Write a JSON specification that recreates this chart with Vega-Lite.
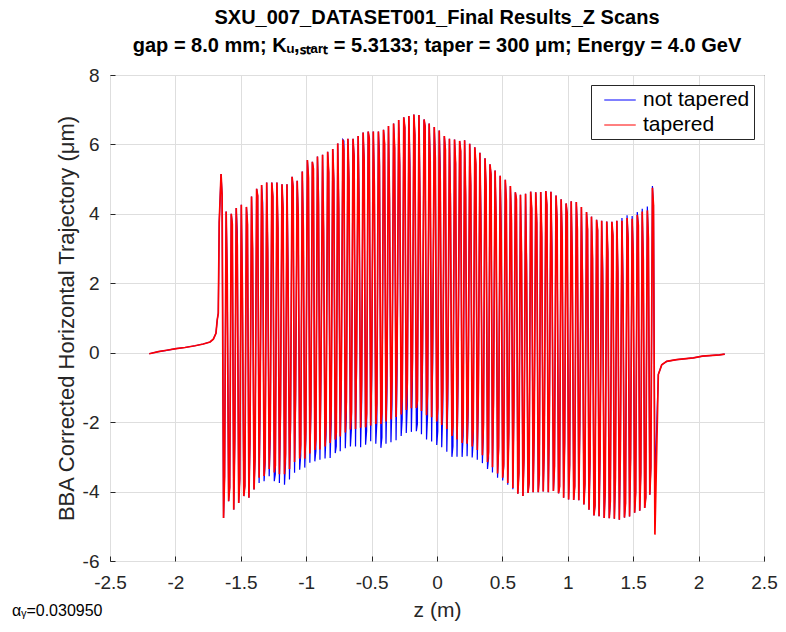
{
"$schema":"https://vega.github.io/schema/vega-lite/v6.json",
"width":654,"height":486,
"autosize":{"type":"none"},
"padding":{"left":110,"top":75,"right":22,"bottom":71},
"background":"white",
"config":{"font":"Liberation Sans","view":{"stroke":"#262626","strokeWidth":1}},
"title":{"text":["SXU_007_DATASET001_Final Results_Z Scans","gap = 8.0 mm; Kᵤ,ₛₜₐᵣₜ = 5.3133; taper = 300 μm; Energy = 4.0 GeV"],"fontSize":20,"fontWeight":"bold","color":"#000000","lineHeight":28,"offset":10,"anchor":"middle"},
"data":{"values":[
{"z":-2.2,"nt":-0.03,"t":-0.03},{"z":-2.13,"nt":0.03,"t":0.03},{"z":-2.067,"nt":0.07,"t":0.07},{"z":-1.995,"nt":0.12,"t":0.12},{"z":-1.927,"nt":0.15,"t":0.15},{"z":-1.85,"nt":0.2,"t":0.2},{"z":-1.787,"nt":0.25,"t":0.25},{"z":-1.735,"nt":0.31,"t":0.31},{"z":-1.71,"nt":0.39,"t":0.39},{"z":-1.69,"nt":0.56,"t":0.56},{"z":-1.68,"nt":0.95,"t":0.95},{"z":-1.672,"nt":1.14,"t":1.14},{"z":-1.665,"nt":3.75,"t":3.75},
{"z":-1.651,"nt":5.15,"t":5.15},{"z":-1.643,"nt":4.55,"t":4.55},{"z":-1.632,"nt":-4.76,"t":-4.76},{"z":-1.624,"nt":-3.56,"t":-3.56},
{"z":-1.612,"nt":4.07,"t":4.07},{"z":-1.604,"nt":2.27,"t":2.27},{"z":-1.593,"nt":-4.28,"t":-4.28},{"z":-1.585,"nt":-3.88,"t":-3.88},
{"z":-1.573,"nt":4.0,"t":4.0},{"z":-1.565,"nt":3.7,"t":3.7},{"z":-1.554,"nt":-4.52,"t":-4.52},{"z":-1.546,"nt":-2.52,"t":-2.52},
{"z":-1.535,"nt":4.17,"t":4.17},{"z":-1.527,"nt":3.47,"t":3.07},{"z":-1.516,"nt":-4.33,"t":-4.33},{"z":-1.508,"nt":-3.63,"t":-3.63},
{"z":-1.496,"nt":4.26,"t":4.26},{"z":-1.488,"nt":1.86,"t":1.86},{"z":-1.477,"nt":-4.13,"t":-4.13},{"z":-1.469,"nt":-3.83,"t":-3.83},
{"z":-1.457,"nt":4.2,"t":4.2},{"z":-1.449,"nt":3.7,"t":3.7},{"z":-1.438,"nt":-4.18,"t":-4.18},{"z":-1.43,"nt":-2.58,"t":-2.58},
{"z":-1.418,"nt":4.5,"t":4.5},{"z":-1.41,"nt":3.0,"t":3.0},{"z":-1.399,"nt":-3.94,"t":-3.94},{"z":-1.391,"nt":-3.04,"t":-3.04},
{"z":-1.379,"nt":4.72,"t":4.72},{"z":-1.371,"nt":4.52,"t":4.52},{"z":-1.36,"nt":-3.75,"t":-3.6},{"z":-1.352,"nt":-1.45,"t":-1.3},
{"z":-1.341,"nt":4.83,"t":4.83},{"z":-1.333,"nt":4.33,"t":3.93},{"z":-1.322,"nt":-3.7,"t":-3.55},{"z":-1.314,"nt":-3.2,"t":-3.05},
{"z":-1.302,"nt":4.9,"t":4.9},{"z":-1.294,"nt":2.9,"t":2.9},{"z":-1.283,"nt":-3.56,"t":-3.35},{"z":-1.275,"nt":-2.46,"t":-2.25},
{"z":-1.263,"nt":4.9,"t":4.9},{"z":-1.255,"nt":4.5,"t":4.5},{"z":-1.244,"nt":-3.7,"t":-3.45},{"z":-1.236,"nt":-3.5,"t":-3.25},
{"z":-1.224,"nt":4.9,"t":4.9},{"z":-1.216,"nt":3.6,"t":3.6},{"z":-1.205,"nt":-3.75,"t":-3.5},{"z":-1.197,"nt":-1.95,"t":-1.7},
{"z":-1.185,"nt":4.85,"t":4.85},{"z":-1.177,"nt":4.15,"t":4.15},{"z":-1.166,"nt":-3.8,"t":-3.5},{"z":-1.158,"nt":-3.2,"t":-2.9},
{"z":-1.147,"nt":4.85,"t":4.85},{"z":-1.139,"nt":2.65,"t":2.25},{"z":-1.128,"nt":-3.65,"t":-3.35},{"z":-1.12,"nt":-2.25,"t":-1.95},
{"z":-1.108,"nt":5.07,"t":5.07},{"z":-1.1,"nt":4.77,"t":4.77},{"z":-1.089,"nt":-3.46,"t":-3.15},{"z":-1.081,"nt":-1.36,"t":-1.05},
{"z":-1.069,"nt":4.95,"t":4.95},{"z":-1.061,"nt":3.95,"t":3.95},{"z":-1.05,"nt":-3.37,"t":-3.05},{"z":-1.042,"nt":-2.97,"t":-2.65},
{"z":-1.03,"nt":5.22,"t":5.22},{"z":-1.022,"nt":3.52,"t":3.52},{"z":-1.011,"nt":-3.31,"t":-3.05},{"z":-1.003,"nt":-2.51,"t":-2.25},
{"z":-0.991,"nt":5.55,"t":5.55},{"z":-0.983,"nt":5.05,"t":5.05},{"z":-0.972,"nt":-3.17,"t":-2.9},{"z":-0.964,"nt":-1.67,"t":-1.4},
{"z":-0.953,"nt":5.5,"t":5.5},{"z":-0.945,"nt":5.3,"t":5.3},{"z":-0.934,"nt":-3.13,"t":-2.8},{"z":-0.926,"nt":-2.83,"t":-2.5},
{"z":-0.914,"nt":5.65,"t":5.65},{"z":-0.906,"nt":4.65,"t":4.25},{"z":-0.895,"nt":-3.08,"t":-2.79},{"z":-0.887,"nt":-0.68,"t":-0.39},
{"z":-0.875,"nt":5.7,"t":5.7},{"z":-0.867,"nt":3.5,"t":3.5},{"z":-0.856,"nt":-3.05,"t":-2.7},{"z":-0.848,"nt":-2.35,"t":-2.0},
{"z":-0.836,"nt":5.79,"t":5.79},{"z":-0.828,"nt":5.19,"t":5.19},{"z":-0.817,"nt":-3.03,"t":-2.6},{"z":-0.809,"nt":-2.03,"t":-1.6},
{"z":-0.797,"nt":5.87,"t":5.87},{"z":-0.789,"nt":4.97,"t":4.97},{"z":-0.778,"nt":-2.89,"t":-2.5},{"z":-0.77,"nt":-2.69,"t":-2.3},
{"z":-0.759,"nt":6.03,"t":6.03},{"z":-0.751,"nt":4.13,"t":4.13},{"z":-0.74,"nt":-2.84,"t":-2.41},{"z":-0.732,"nt":-1.14,"t":-0.71},
{"z":-0.72,"nt":6.14,"t":6.14},{"z":-0.712,"nt":6.1,"t":5.84},{"z":-0.701,"nt":-2.75,"t":-2.3},{"z":-0.693,"nt":-1.85,"t":-1.4},
{"z":-0.681,"nt":6.16,"t":6.16},{"z":-0.673,"nt":4.96,"t":4.96},{"z":-0.662,"nt":-2.7,"t":-2.21},{"z":-0.654,"nt":-2.2,"t":-1.71},
{"z":-0.642,"nt":6.16,"t":6.16},{"z":-0.634,"nt":5.66,"t":5.66},{"z":-0.623,"nt":-2.7,"t":-2.2},{"z":-0.615,"nt":-0.5,"t":0.0},
{"z":-0.603,"nt":6.24,"t":6.24},{"z":-0.595,"nt":4.34,"t":3.94},{"z":-0.584,"nt":-2.72,"t":-2.16},{"z":-0.576,"nt":-1.42,"t":-0.86},
{"z":-0.565,"nt":6.34,"t":6.34},{"z":-0.557,"nt":5.54,"t":5.54},{"z":-0.546,"nt":-2.65,"t":-2.15},{"z":-0.538,"nt":-2.25,"t":-1.75},
{"z":-0.526,"nt":6.37,"t":6.37},{"z":-0.518,"nt":6.17,"t":6.17},{"z":-0.507,"nt":-2.55,"t":-2.1},{"z":-0.499,"nt":-0.65,"t":-0.2},
{"z":-0.487,"nt":6.37,"t":6.37},{"z":-0.479,"nt":4.77,"t":4.77},{"z":-0.468,"nt":-2.62,"t":-2.05},{"z":-0.46,"nt":-2.02,"t":-1.45},
{"z":-0.448,"nt":6.37,"t":6.37},{"z":-0.44,"nt":5.77,"t":5.37},{"z":-0.429,"nt":-2.74,"t":-2.05},{"z":-0.421,"nt":-2.44,"t":-1.75},
{"z":-0.409,"nt":6.42,"t":6.42},{"z":-0.401,"nt":6.02,"t":6.02},{"z":-0.39,"nt":-2.62,"t":-1.98},{"z":-0.382,"nt":-1.02,"t":-0.38},
{"z":-0.371,"nt":6.53,"t":6.53},{"z":-0.363,"nt":4.43,"t":4.43},{"z":-0.352,"nt":-2.58,"t":-1.92},{"z":-0.344,"nt":-1.48,"t":-0.82},
{"z":-0.332,"nt":6.6,"t":6.6},{"z":-0.324,"nt":5.9,"t":5.9},{"z":-0.313,"nt":-2.52,"t":-1.85},{"z":-0.305,"nt":-0.52,"t":0.15},
{"z":-0.293,"nt":6.7,"t":6.7},{"z":-0.285,"nt":5.4,"t":5.4},{"z":-0.274,"nt":-2.4,"t":-1.78},{"z":-0.266,"nt":-1.9,"t":-1.28},
{"z":-0.254,"nt":6.78,"t":6.78},{"z":-0.246,"nt":6.48,"t":6.48},{"z":-0.235,"nt":-2.31,"t":-1.65},{"z":-0.227,"nt":-1.51,"t":-0.85},
{"z":-0.215,"nt":6.82,"t":6.82},{"z":-0.207,"nt":5.42,"t":5.02},{"z":-0.196,"nt":-2.28,"t":-1.6},{"z":-0.188,"nt":-0.88,"t":-0.2},
{"z":-0.177,"nt":6.86,"t":6.86},{"z":-0.169,"nt":6.26,"t":6.26},{"z":-0.158,"nt":-2.26,"t":-1.59},{"z":-0.15,"nt":-2.06,"t":-1.39},
{"z":-0.138,"nt":6.85,"t":6.85},{"z":-0.13,"nt":4.35,"t":4.35},{"z":-0.119,"nt":-2.35,"t":-1.68},{"z":-0.111,"nt":-0.55,"t":0.12},
{"z":-0.099,"nt":6.72,"t":6.72},{"z":-0.091,"nt":6.52,"t":6.52},{"z":-0.08,"nt":-2.5,"t":-1.8},{"z":-0.072,"nt":-1.8,"t":-1.1},
{"z":-0.06,"nt":6.6,"t":6.6},{"z":-0.052,"nt":5.5,"t":5.5},{"z":-0.041,"nt":-2.56,"t":-1.86},{"z":-0.033,"nt":-0.26,"t":0.44},
{"z":-0.021,"nt":6.5,"t":6.5},{"z":-0.013,"nt":5.6,"t":5.6},{"z":-0.002,"nt":-2.66,"t":-1.98},{"z":0.006,"nt":-2.26,"t":-1.58},
{"z":0.017,"nt":6.4,"t":6.4},{"z":0.025,"nt":5.3,"t":4.9},{"z":0.036,"nt":-2.72,"t":-2.08},{"z":0.044,"nt":-1.72,"t":-1.08},
{"z":0.056,"nt":6.24,"t":6.24},{"z":0.064,"nt":5.84,"t":5.84},{"z":0.075,"nt":-2.85,"t":-2.2},{"z":0.083,"nt":-1.35,"t":-0.7},
{"z":0.095,"nt":6.16,"t":6.16},{"z":0.103,"nt":4.56,"t":4.16},{"z":0.114,"nt":-3.0,"t":-2.4},{"z":0.122,"nt":-2.7,"t":-2.1},
{"z":0.134,"nt":6.14,"t":6.14},{"z":0.142,"nt":5.44,"t":5.44},{"z":0.153,"nt":-3.0,"t":-2.5},{"z":0.161,"nt":-0.9,"t":-0.4},
{"z":0.173,"nt":6.1,"t":6.1},{"z":0.181,"nt":5.8,"t":5.8},{"z":0.192,"nt":-3.0,"t":-2.6},{"z":0.2,"nt":-2.4,"t":-2.0},
{"z":0.211,"nt":6.12,"t":6.12},{"z":0.219,"nt":4.52,"t":4.52},{"z":0.23,"nt":-2.98,"t":-2.62},{"z":0.238,"nt":-1.78,"t":-1.42},
{"z":0.25,"nt":6.02,"t":6.02},{"z":0.258,"nt":4.82,"t":4.82},{"z":0.269,"nt":-3.02,"t":-2.7},{"z":0.277,"nt":-2.52,"t":-2.2},
{"z":0.289,"nt":5.92,"t":5.92},{"z":0.297,"nt":5.42,"t":5.42},{"z":0.308,"nt":-3.08,"t":-2.8},{"z":0.316,"nt":-1.38,"t":-1.1},
{"z":0.328,"nt":5.76,"t":5.76},{"z":0.336,"nt":3.96,"t":3.56},{"z":0.347,"nt":-3.18,"t":-2.95},{"z":0.355,"nt":-2.28,"t":-2.05},
{"z":0.367,"nt":5.6,"t":5.6},{"z":0.375,"nt":4.8,"t":4.8},{"z":0.386,"nt":-3.35,"t":-3.15},{"z":0.394,"nt":-3.05,"t":-2.85},
{"z":0.405,"nt":5.43,"t":5.43},{"z":0.413,"nt":5.13,"t":5.13},{"z":0.424,"nt":-3.45,"t":-3.3},{"z":0.432,"nt":-1.45,"t":-1.3},
{"z":0.444,"nt":5.25,"t":5.25},{"z":0.452,"nt":3.85,"t":3.85},{"z":0.463,"nt":-3.6,"t":-3.48},{"z":0.471,"nt":-2.8,"t":-2.68},
{"z":0.483,"nt":5.1,"t":5.1},{"z":0.491,"nt":3.6,"t":3.2},{"z":0.502,"nt":-3.68,"t":-3.6},{"z":0.51,"nt":-3.28,"t":-3.2},
{"z":0.522,"nt":4.98,"t":4.98},{"z":0.53,"nt":4.38,"t":4.38},{"z":0.541,"nt":-3.8,"t":-3.75},{"z":0.549,"nt":-2.3,"t":-2.25},
{"z":0.561,"nt":4.8,"t":4.8},{"z":0.569,"nt":3.8,"t":3.8},{"z":0.58,"nt":-3.93,"t":-3.9},{"z":0.588,"nt":-1.53,"t":-1.5},
{"z":0.599,"nt":4.62,"t":4.62},{"z":0.607,"nt":4.42,"t":4.42},{"z":0.618,"nt":-4.06,"t":-4.06},{"z":0.626,"nt":-3.46,"t":-3.46},
{"z":0.638,"nt":4.55,"t":4.55},{"z":0.646,"nt":2.85,"t":2.85},{"z":0.657,"nt":-4.13,"t":-4.13},{"z":0.665,"nt":-3.03,"t":-3.03},
{"z":0.677,"nt":4.58,"t":4.58},{"z":0.685,"nt":2.58,"t":2.18},{"z":0.696,"nt":-4.04,"t":-4.04},{"z":0.704,"nt":-3.74,"t":-3.74},
{"z":0.716,"nt":4.64,"t":4.64},{"z":0.724,"nt":4.14,"t":4.14},{"z":0.735,"nt":-4.02,"t":-4.02},{"z":0.743,"nt":-2.22,"t":-2.22},
{"z":0.755,"nt":4.62,"t":4.62},{"z":0.763,"nt":3.72,"t":3.72},{"z":0.774,"nt":-4.02,"t":-4.02},{"z":0.782,"nt":-3.52,"t":-3.52},
{"z":0.793,"nt":4.63,"t":4.63},{"z":0.801,"nt":3.33,"t":3.33},{"z":0.812,"nt":-4.0,"t":-4.0},{"z":0.82,"nt":-2.7,"t":-2.7},
{"z":0.832,"nt":4.66,"t":4.66},{"z":0.84,"nt":4.26,"t":4.26},{"z":0.851,"nt":-4.02,"t":-4.02},{"z":0.859,"nt":-1.92,"t":-1.92},
{"z":0.871,"nt":4.64,"t":4.64},{"z":0.879,"nt":3.04,"t":2.64},{"z":0.89,"nt":-3.98,"t":-3.98},{"z":0.898,"nt":-3.28,"t":-3.28},
{"z":0.91,"nt":4.53,"t":4.53},{"z":0.918,"nt":3.83,"t":3.83},{"z":0.929,"nt":-4.05,"t":-4.05},{"z":0.937,"nt":-3.85,"t":-3.85},
{"z":0.949,"nt":4.42,"t":4.42},{"z":0.957,"nt":3.32,"t":3.32},{"z":0.968,"nt":-4.18,"t":-4.18},{"z":0.976,"nt":-2.58,"t":-2.58},
{"z":0.987,"nt":4.3,"t":4.3},{"z":0.995,"nt":4.0,"t":4.0},{"z":1.006,"nt":-4.23,"t":-4.23},{"z":1.014,"nt":-3.23,"t":-3.23},
{"z":1.026,"nt":4.36,"t":4.36},{"z":1.034,"nt":2.76,"t":2.76},{"z":1.045,"nt":-4.24,"t":-4.24},{"z":1.053,"nt":-3.84,"t":-3.84},
{"z":1.065,"nt":4.34,"t":4.34},{"z":1.073,"nt":3.54,"t":3.54},{"z":1.084,"nt":-4.25,"t":-4.25},{"z":1.092,"nt":-2.05,"t":-2.05},
{"z":1.104,"nt":4.2,"t":4.2},{"z":1.112,"nt":2.4,"t":2.0},{"z":1.123,"nt":-4.37,"t":-4.37},{"z":1.131,"nt":-3.77,"t":-3.77},
{"z":1.143,"nt":4.05,"t":4.05},{"z":1.151,"nt":3.55,"t":3.55},{"z":1.162,"nt":-4.52,"t":-4.52},{"z":1.17,"nt":-3.12,"t":-3.12},
{"z":1.181,"nt":3.92,"t":3.92},{"z":1.189,"nt":2.72,"t":2.72},{"z":1.2,"nt":-4.69,"t":-4.69},{"z":1.208,"nt":-4.39,"t":-4.39},
{"z":1.22,"nt":3.83,"t":3.83},{"z":1.228,"nt":3.53,"t":3.53},{"z":1.239,"nt":-4.71,"t":-4.71},{"z":1.247,"nt":-2.81,"t":-2.81},
{"z":1.259,"nt":3.8,"t":3.8},{"z":1.267,"nt":2.4,"t":2.0},{"z":1.278,"nt":-4.76,"t":-4.76},{"z":1.286,"nt":-3.96,"t":-3.96},
{"z":1.298,"nt":3.78,"t":3.78},{"z":1.306,"nt":2.88,"t":2.88},{"z":1.317,"nt":-4.77,"t":-4.77},{"z":1.325,"nt":-4.27,"t":-4.27},
{"z":1.337,"nt":3.77,"t":3.77},{"z":1.345,"nt":3.37,"t":3.37},{"z":1.356,"nt":-4.78,"t":-4.78},{"z":1.364,"nt":-3.58,"t":-3.58},
{"z":1.375,"nt":3.8,"t":3.8},{"z":1.383,"nt":2.3,"t":2.3},{"z":1.394,"nt":-4.81,"t":-4.81},{"z":1.402,"nt":-2.81,"t":-2.81},
{"z":1.414,"nt":3.88,"t":3.8},{"z":1.422,"nt":2.1,"t":1.7},{"z":1.433,"nt":-4.75,"t":-4.75},{"z":1.441,"nt":-4.35,"t":-4.35},
{"z":1.453,"nt":3.96,"t":3.88},{"z":1.461,"nt":3.28,"t":3.28},{"z":1.472,"nt":-4.72,"t":-4.72},{"z":1.48,"nt":-3.02,"t":-3.02},
{"z":1.492,"nt":3.94,"t":3.86},{"z":1.5,"nt":2.86,"t":2.86},{"z":1.511,"nt":-4.61,"t":-4.61},{"z":1.519,"nt":-4.01,"t":-4.01},
{"z":1.531,"nt":4.05,"t":3.97},{"z":1.539,"nt":3.67,"t":3.67},{"z":1.55,"nt":-4.55,"t":-4.55},{"z":1.558,"nt":-3.45,"t":-3.45},
{"z":1.569,"nt":4.15,"t":4.07},{"z":1.577,"nt":2.67,"t":2.67},{"z":1.588,"nt":-4.47,"t":-4.47},{"z":1.596,"nt":-4.17,"t":-4.17},
{"z":1.608,"nt":4.21,"t":4.1},{"z":1.616,"nt":3.3,"t":3.3},{"z":1.627,"nt":-4.09,"t":-4.09},{"z":1.635,"nt":-3.29,"t":-3.29},
{"z":1.647,"nt":4.8,"t":4.75},{"z":1.655,"nt":4.25,"t":4.25},{"z":1.666,"nt":-3.77,"t":-5.24},
{"z":1.692,"nt":-0.63,"t":-0.63},{"z":1.718,"nt":-0.35,"t":-0.35},{"z":1.756,"nt":-0.25,"t":-0.25},{"z":1.832,"nt":-0.2,"t":-0.2},{"z":1.96,"nt":-0.15,"t":-0.15},{"z":2.03,"nt":-0.1,"t":-0.1},{"z":2.16,"nt":-0.06,"t":-0.06},{"z":2.2,"nt":-0.04,"t":-0.04}
]},
"layer":[
{"mark":{"type":"line","strokeWidth":1.2,"clip":true},
"encoding":{
"x":{"field":"z","type":"quantitative","scale":{"domain":[-2.5,2.5],"nice":false,"zero":false},
"axis":{"title":"z (m)","values":[-2.5,-2,-1.5,-1,-0.5,0,0.5,1,1.5,2,2.5],"labelExpr":"'' + datum.value","labelFlush":false,"grid":true,"gridColor":"#dedede","domain":false,"tickColor":"#262626","tickSize":-5,"labelPadding":17,"labelFontSize":19,"labelColor":"#262626","titleFontSize":21,"titleFontWeight":"normal","titleColor":"#262626","titlePadding":7}},
"y":{"field":"nt","type":"quantitative","scale":{"domain":[-6,8],"nice":false,"zero":false},
"axis":{"title":"BBA Corrected Horizontal Trajectory (μm)","values":[-6,-4,-2,0,2,4,6,8],"labelExpr":"'' + datum.value","labelFlush":false,"grid":true,"gridColor":"#dedede","domain":false,"tickColor":"#262626","tickSize":-5,"labelPadding":16,"labelFontSize":19,"labelColor":"#262626","titleFontSize":22,"titleFontWeight":"normal","titleColor":"#262626","titlePadding":4}},
"color":{"datum":"not tapered","type":"nominal","scale":{"domain":["not tapered","tapered"],"range":["#0000ff","#ff0000"]},
"legend":{"title":null,"orient":"top-right","offset":10,"symbolType":"M-1.5,0H1.5","symbolSize":441,"symbolStrokeWidth":1,"labelFontSize":21,"labelColor":"#000000","strokeColor":"#262626","fillColor":"#ffffff","padding":4,"rowPadding":4,"labelOffset":12,"symbolOffset":14,"labelLimit":300}}
}},
{"mark":{"type":"line","strokeWidth":1.7,"clip":true},
"encoding":{
"x":{"field":"z","type":"quantitative"},
"y":{"field":"t","type":"quantitative"},
"color":{"datum":"tapered","type":"nominal"}
}},
{"data":{"values":[{"lbl":"αᵧ=0.030950"}]},
"mark":{"type":"text","align":"left","baseline":"middle","fontSize":16,"clip":false,"color":"#000000"},
"encoding":{"x":{"datum":-3.249,"type":"quantitative"},"y":{"datum":-7.45,"type":"quantitative"},"text":{"field":"lbl"}}}
]
}
